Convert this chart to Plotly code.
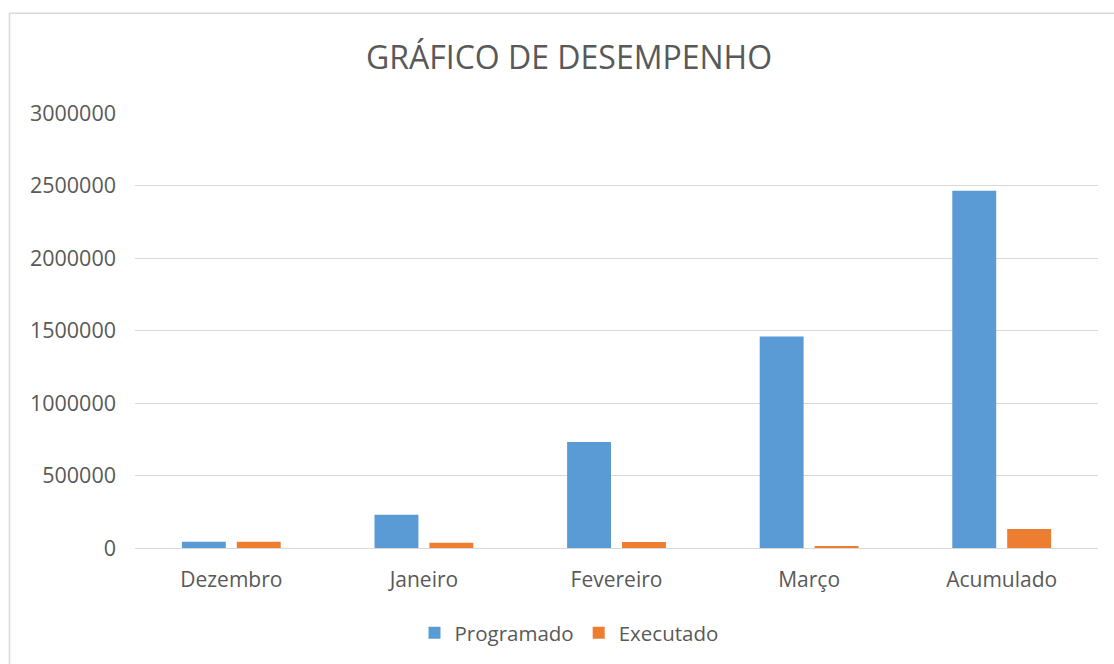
import plotly.graph_objects as go

categories = ["Dezembro", "Janeiro", "Fevereiro", "Março", "Acumulado"]
programado = [43000, 229000, 731000, 1458000, 2464000]
executado = [43000, 36000, 42000, 7000, 131000]
tick_vals = [0, 500000, 1000000, 1500000, 2000000, 2500000, 3000000]
tick_text = ["0", "500000", "1000000", "1500000", "2000000", "2500000", "3000000"]

W, H = 1114, 664
L, R, T, B = 135, 16, 113, 115
pw, ph = W - L - R, H - T - B

font_family = "Open Sans, Lato, sans-serif"
gray = "#595959"

fig = go.Figure()
fig.add_trace(go.Bar(name="Programado", x=categories, y=programado,
                     marker=dict(color="#5B9BD5", line=dict(width=0))))
fig.add_trace(go.Bar(name="Executado", x=categories, y=executado,
                     marker=dict(color="#ED7D31", line=dict(width=0))))

fig.update_layout(
    width=W, height=H,
    margin=dict(l=L, r=R, t=T, b=B),
    paper_bgcolor="white", plot_bgcolor="white",
    barmode="group", bargap=0.43, bargroupgap=0.2,
    title=dict(text="GRÁFICO DE DESEMPENHO", x=569 / W, xanchor="center",
               xref="container", y=1 - 58 / H, yanchor="middle",
               font=dict(family=font_family, size=32, color=gray)),
    font=dict(family=font_family, size=21, color=gray),
    showlegend=True,
    legend=dict(orientation="h", x=(569 - L) / pw, xanchor="center",
                y=-(633 - 549) / ph, yanchor="middle",
                font=dict(size=20.5, color=gray),
                itemwidth=30, traceorder="normal"),
    xaxis=dict(showgrid=False, showline=False, ticks="",
               ticklabelstandoff=17,
               tickfont=dict(size=21, color=gray)),
    yaxis=dict(range=[0, 3000000], tickvals=tick_vals, ticktext=tick_text,
               showgrid=True, gridcolor="#d9d9d9", gridwidth=1,
               zeroline=True, zerolinecolor="#d9d9d9", zerolinewidth=1,
               showline=False, ticks="", ticklabelstandoff=18,
               tickfont=dict(size=21.5, color=gray)),
    shapes=[dict(type="rect", xref="paper", yref="paper",
                 x0=(9.5 - L) / pw, x1=(1125 - L) / pw,
                 y0=-(680 - 549) / ph, y1=(549 - 13) / ph,
                 line=dict(color="#d9d9d9", width=1.5), layer="below")],
)

fig.write_html("out.html", config={"displayModeBar": False},
               post_script="document.body.style.margin='0';")
